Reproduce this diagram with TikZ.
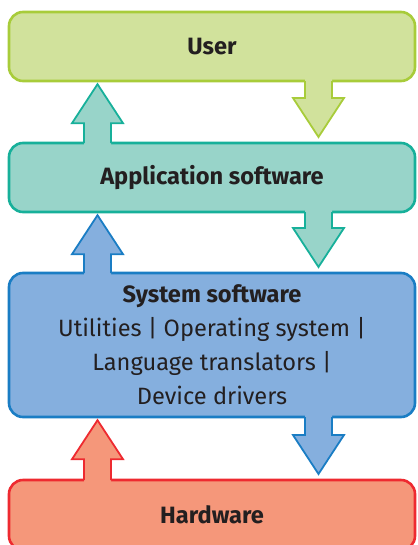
\documentclass[tikz,border=0pt]{standalone}
\usepackage{fontspec}
\setmainfont{Fira Sans}
\usepackage{tikz}
\usetikzlibrary{positioning,calc}

\definecolor{userFill}{HTML}{D1E29C}
\definecolor{userLine}{HTML}{A8CC3A}
\definecolor{appFill}{HTML}{98D4C9}
\definecolor{appLine}{HTML}{17B09A}
\definecolor{sysFill}{HTML}{85AFDE}
\definecolor{sysLine}{HTML}{1A7DC4}
\definecolor{hwFill}{HTML}{F5977A}
\definecolor{hwLine}{HTML}{EE2A30}
\definecolor{ink}{HTML}{231F20}

\begin{document}
\begin{tikzpicture}[
    layer/.style={draw, rectangle, rounded corners=0.35cm, line width=0.065cm, minimum width=10.15cm, inner sep=0pt, outer sep=0pt, text=ink, align=center, font=\fontsize{16.8}{24.2}\selectfont},
    heading/.style={font=\fontsize{16.8}{24.2}\selectfont\bfseries},
    ulayer/.style={fill=userFill, draw=userLine},
    alayer/.style={fill=appFill, draw=appLine},
    slayer/.style={fill=sysFill, draw=sysLine},
    hlayer/.style={fill=hwFill, draw=hwLine}
]
    \useasboundingbox (0,0) rectangle (10.45,-13.625);
    \clip (0,0) rectangle (10.45,-13.625);

    % The four layers, top to bottom
    \node [layer, ulayer, heading, minimum height=1.725cm, anchor=north west] (user) at (0.225,-0.3) {User};
    \node [layer, alayer, heading, minimum height=1.725cm, below=1.55cm of user] (app) {Application software};
    \node [layer, slayer, minimum height=3.6cm, below=1.525cm of app] (sys) {\textbf{System software}\\Utilities | Operating system |\\Language translators |\\Device drivers};
    \node [layer, hlayer, heading, minimum height=1.75cm, below=1.575cm of sys] (hw) {Hardware};

    % Block arrows: down on the right, up on the left
    \foreach \src/\dst/\sa/\da/\off/\dir/\gap/\clr in {
        user/app/south/north/2.6625/-1/0.15/ulayer,
        app/user/north/south/-2.8625/1/0.08/alayer,
        app/sys/south/north/2.6625/-1/0.15/alayer,
        sys/app/north/south/-2.8625/1/0.08/slayer,
        sys/hw/south/north/2.6625/-1/0.15/slayer,
        hw/sys/north/south/-2.8625/1/0.08/hlayer} {
        \coordinate (b) at ($(\src.\sa)+(\off,0)$);
        \coordinate (t) at ($(\dst.\da)+(\off,{-\gap*\dir})$);
        \coordinate (h) at ($(t)+(0,{-0.975*\dir})$);
        \path [\clr, draw=none] ($(b)+(-0.3375,{-0.1*\dir})$) -- ($(h)+(-0.3375,0)$) -- ($(h)+(-0.6375,0)$) -- (t)
            -- ($(h)+(0.6375,0)$) -- ($(h)+(0.3375,0)$) -- ($(b)+(0.3375,{-0.1*\dir})$) -- cycle;
        \path [\clr, fill=none, line width=0.045cm] ($(b)+(-0.3375,0)$) -- ($(h)+(-0.3375,0)$) -- ($(h)+(-0.6375,0)$) -- (t)
            -- ($(h)+(0.6375,0)$) -- ($(h)+(0.3375,0)$) -- ($(b)+(0.3375,0)$);
    }
\end{tikzpicture}
\end{document}
